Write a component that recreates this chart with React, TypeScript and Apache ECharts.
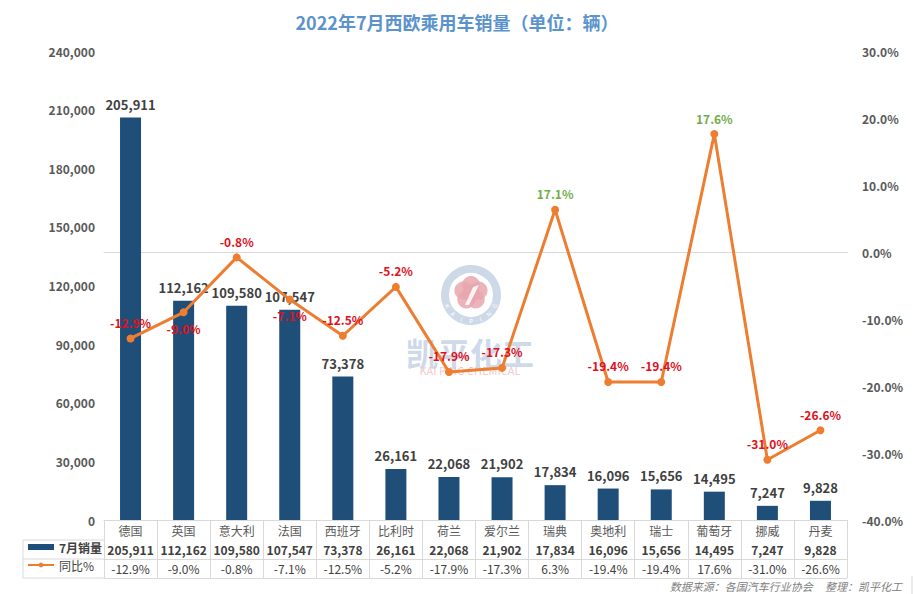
import React, { useEffect, useRef } from "react";
import * as echarts from "echarts";

const categories = ["德国", "英国", "意大利", "法国", "西班牙", "比利时", "荷兰", "爱尔兰", "瑞典", "奥地利", "瑞士", "葡萄牙", "挪威", "丹麦"];
const sales = [205911, 112162, 109580, 107547, 73378, 26161, 22068, 21902, 17834, 16096, 15656, 14495, 7247, 9828];
const yoy = [-12.9, -9.0, -0.8, -7.1, -12.5, -5.2, -17.9, -17.3, 6.3, -19.4, -19.4, 17.6, -31.0, -26.6];
const yoyLabels = ["-12.9%", "-9.0%", "-0.8%", "-7.1%", "-12.5%", "-5.2%", "-17.9%", "-17.3%", "17.1%", "-19.4%", "-19.4%", "17.6%", "-31.0%", "-26.6%"];
const labelBelow = [false, true, false, true, false, false, false, false, false, false, false, false, false, false];

const FONT = "Noto Sans CJK SC";
const fmtInt = (v: number) => v.toLocaleString("en-US");
const fmtPct = (v: number) => v.toFixed(1) + "%";

export default function App() {
  const ref = useRef<HTMLDivElement>(null);
  useEffect(() => {
    document.body.style.margin = "0";
    if (!ref.current) return;
    const chart = echarts.init(ref.current, null, { renderer: "svg" });

    const gridColor = "#d9d9d9";
    const cx = 471, cy = 295;
    const ringLetters = "KAIPING".split("");
    const petals = [0, 1, 2, 3, 4].map((i) => {
      const a = (-90 + i * 72) * Math.PI / 180;
      return { type: "circle", shape: { cx: cx + Math.cos(a) * 8, cy: cy - 2 + Math.sin(a) * 8, r: 9 }, style: { fill: "#e8a7ae", opacity: 0.85 }, silent: true };
    });
    const letters = ringLetters.map((ch, i) => {
      const deg = 155 - i * 21.7;
      const a = deg * Math.PI / 180;
      return {
        type: "text",
        x: cx + Math.cos(a) * 26,
        y: cy + Math.sin(a) * 26,
        rotation: (90 - deg) * Math.PI / 180,
        style: { text: ch, fill: "#ffffff", font: `6px ${FONT}`, align: "center", verticalAlign: "middle" },
        silent: true,
      };
    });

    const option: any = {
      animation: false,
      backgroundColor: "#ffffff",
      title: {
        text: "2022年7月西欧乘用车销量（单位：辆）",
        left: "center",
        top: 8,
        textStyle: { fontFamily: FONT, fontSize: 18, fontWeight: "bold", color: "#5b93cc" },
      },
      legend: {
        orient: "vertical",
        left: 27,
        top: 541,
        padding: 0,
        itemWidth: 26,
        itemHeight: 6,
        itemGap: 6,
        textStyle: { fontFamily: FONT, fontSize: 12, color: "#404040" },
        data: [
          { name: "7月销量", icon: "rect", textStyle: { fontWeight: "bold" } },
          { name: "同比%" },
        ],
      },
      grid: { left: 104, right: 67, top: 51, bottom: 74, containLabel: false },
      xAxis: [
        {
          type: "category",
          data: categories,
          position: "bottom",
          axisLine: { show: true, lineStyle: { color: gridColor } },
          axisTick: { show: true, length: 58, lineStyle: { color: gridColor } },
          axisLabel: { interval: 0, margin: 4, fontFamily: FONT, fontSize: 12, color: "#595959" },
        },
        {
          type: "category",
          data: sales.map(fmtInt),
          position: "bottom",
          offset: 20,
          axisLine: { show: true, lineStyle: { color: gridColor } },
          axisTick: { show: false },
          axisLabel: { interval: 0, margin: 3, fontFamily: FONT, fontSize: 12, fontWeight: "bold", color: "#404040" },
        },
        {
          type: "category",
          data: yoy.map(fmtPct),
          position: "bottom",
          offset: 39,
          axisLine: { show: true, lineStyle: { color: gridColor } },
          axisTick: { show: false },
          axisLabel: { interval: 0, margin: 3, fontFamily: FONT, fontSize: 12, color: "#404040" },
        },
        {
          type: "category",
          data: categories,
          position: "bottom",
          offset: 58,
          axisLine: { show: true, lineStyle: { color: gridColor } },
          axisTick: { show: false },
          axisLabel: { show: false },
        },
      ],
      yAxis: [
        {
          type: "value",
          min: 0,
          max: 240000,
          interval: 30000,
          splitLine: { show: false },
          axisLine: { show: false },
          axisTick: { show: false },
          axisLabel: { margin: 9, formatter: (v: number) => fmtInt(v), fontFamily: FONT, fontSize: 12, fontWeight: "bold", color: "#595959" },
        },
        {
          type: "value",
          min: -40,
          max: 30,
          interval: 10,
          position: "right",
          splitLine: { show: false },
          axisLine: { show: false },
          axisTick: { show: false },
          axisLabel: { margin: 15, formatter: (v: number) => fmtPct(v), fontFamily: FONT, fontSize: 12, fontWeight: "bold", color: "#595959" },
        },
      ],
      series: [
        {
          name: "7月销量",
          type: "bar",
          xAxisIndex: 0,
          yAxisIndex: 0,
          data: sales,
          barWidth: 21,
          itemStyle: { color: "#1f4e79" },
          label: {
            show: true,
            position: "top",
            distance: 7,
            formatter: (p: any) => fmtInt(p.value),
            fontFamily: FONT,
            fontSize: 13,
            fontWeight: "bold",
            color: "#404040",
          },
          z: 2,
        },
        {
          name: "同比%",
          type: "line",
          xAxisIndex: 0,
          yAxisIndex: 1,
          data: yoy.map((v, i) => ({
            value: v,
            label: {
              position: labelBelow[i] ? "bottom" : "top",
              color: yoyLabels[i].startsWith("-") ? "#e01020" : "#70ad47",
            },
          })),
          symbol: "circle",
          symbolSize: 8,
          lineStyle: { color: "#ed7d31", width: 3 },
          itemStyle: { color: "#ed7d31" },
          label: {
            show: true,
            distance: 6,
            formatter: (p: any) => yoyLabels[p.dataIndex],
            fontFamily: FONT,
            fontSize: 12,
            fontWeight: "bold",
          },
          z: 3,
        },
      ],
      graphic: [
        {
          type: "group",
          z: 1,
          silent: true,
          children: [
            { type: "circle", shape: { cx, cy, r: 26 }, style: { fill: "none", stroke: "#c9d5e6", lineWidth: 8, opacity: 0.9 } },
            ...petals,
            { type: "circle", shape: { cx, cy: cy - 2, r: 9 }, style: { fill: "#e8a7ae", opacity: 0.85 } },
            { type: "polygon", shape: { points: [[cx - 6, cy + 10], [cx - 2, cy + 10], [cx + 8, cy - 10], [cx + 2, cy - 8]] }, style: { fill: "#ffffff", opacity: 0.85 } },
            ...letters,
            {
              type: "text",
              x: 470,
              y: 352,
              style: { text: "凯平化工", fill: "#b9c9df", opacity: 0.7, font: `bold 32px ${FONT}`, align: "center", verticalAlign: "middle" },
            },
            {
              type: "text",
              x: 470,
              y: 370,
              style: { text: "KAI PING CHEMICAL", fill: "#f0b8bc", opacity: 0.8, font: `11px ${FONT}`, align: "center", verticalAlign: "middle" },
            },
          ],
        },
        { type: "line", shape: { x1: 23, y1: 540, x2: 104, y2: 540 }, style: { stroke: gridColor, lineWidth: 1 } },
        { type: "line", shape: { x1: 23, y1: 559, x2: 104, y2: 559 }, style: { stroke: gridColor, lineWidth: 1 } },
        { type: "line", shape: { x1: 23, y1: 578, x2: 104, y2: 578 }, style: { stroke: gridColor, lineWidth: 1 } },
        { type: "line", shape: { x1: 23, y1: 540, x2: 23, y2: 578 }, style: { stroke: gridColor, lineWidth: 1 } },
        { type: "line", shape: { x1: 912, y1: 576, x2: 912, y2: 594 }, style: { stroke: gridColor, lineWidth: 1 } },
        {
          type: "text",
          x: 902,
          y: 586,
          style: {
            text: "数据来源：各国汽车行业协会     整理：凯平化工",
            fill: "#808080",
            font: `italic 11px ${FONT}`,
            align: "right",
            verticalAlign: "middle",
          },
        },
      ],
    };
    chart.setOption(option);
    return () => chart.dispose();
  }, []);
  return <div ref={ref} style={{ width: 914, height: 594 }} />;
}
